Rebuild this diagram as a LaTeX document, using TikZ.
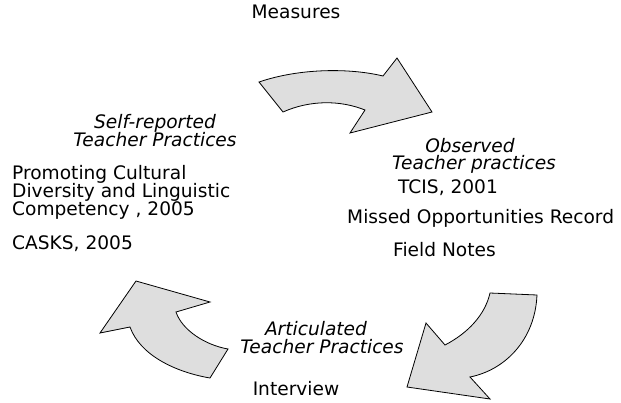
\documentclass[tikz,border=0pt]{standalone}
\usepackage{fontspec}
\setmainfont{DejaVu Sans}
\begin{document}
\begin{tikzpicture}[x=1pt,y=-1pt,
  cyc/.style={fill=black!13,draw=black,line width=0.8pt,line join=miter},
  lbl/.style={inner sep=0pt,anchor=base,font=\fontsize{18.6}{18}\selectfont},
  lbll/.style={lbl,anchor=base west},
  ital/.style={lbl,font=\fontsize{18.6}{18}\selectfont\itshape}]
\useasboundingbox[fill=white] (0,0) rectangle (621,402);
% arrows
\draw[cyc] (259,82) .. controls (300,68) and (350,68) .. (383,76) -- (397,58) -- (432,112) -- (350,133) -- (365,110) .. controls (340,100) and (310,100) .. (283,112) -- cycle;
\draw[cyc] (490,293) -- (537,295) .. controls (535,340) and (505,370) .. (470,377) -- (490,399) -- (407,387) -- (426,323) -- (445,345) .. controls (468,333) and (485,315) .. (490,293) -- cycle;
\draw[cyc] (228,349) -- (210,378) .. controls (175,372) and (140,355) .. (130,327) -- (100,333) -- (136,281) -- (210,302) -- (176,312) .. controls (182,330) and (205,345) .. (228,349) -- cycle;
% texts
\node[lbl] (measures) at (296,18) {Measures};
\node[ital] (self1) at (155,128) {Self-reported};
\node[ital] (self2) at (155,146) {Teacher Practices};
\node[lbll] (prom1) at (12,179) {Promoting Cultural};
\node[lbll] (prom2) at (12,197) {Diversity and Linguistic};
\node[lbll] (prom3) at (12,215) {Competency , 2005};
\node[lbll] (casks) at (12,249) {CASKS, 2005};
\node[ital] (obs1) at (470,152) {Observed};
\node[ital] (obs2) at (474,169) {Teacher practices};
\node[lbll] (tcis) at (398,193) {TCIS, 2001};
\node[lbll] (missed) at (347,223) {Missed Opportunities Record};
\node[lbll] (field) at (393,256) {Field Notes};
\node[ital] (art1) at (316,335) {Articulated};
\node[ital] (art2) at (322,353) {Teacher Practices};
\node[lbl] (interview) at (296,395) {Interview};
\end{tikzpicture}
\end{document}
